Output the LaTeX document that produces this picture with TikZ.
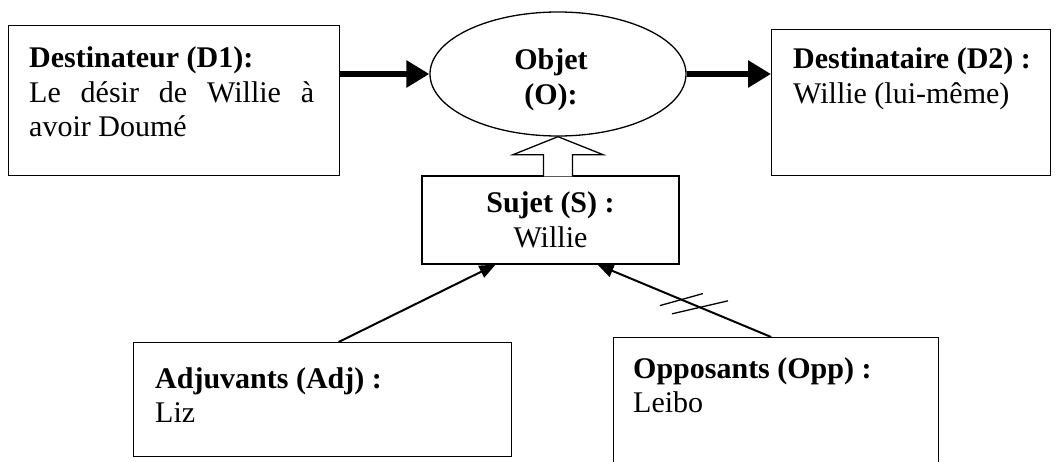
\documentclass[tikz,border=0pt]{standalone}
\usepackage{fontspec}
\setmainfont{Liberation Serif}
\usetikzlibrary{shapes.geometric,arrows.meta,calc}

\tikzset{
  boite/.style={draw, line width=1.3pt, inner sep=0pt, anchor=north west},
  texte/.style={anchor=north west, inner sep=0pt, align=left, font=\fontsize{30}{34.5}\selectfont},
  grosse/.style={line width=6pt, -{Triangle[length=23pt,width=26pt]}},
  fine/.style={line width=2pt, -{Triangle[length=16pt,width=13pt]}}
}

\begin{document}
\begin{tikzpicture}[x=1pt,y=-1pt]
    \clip (0,0) rectangle (1057,461);

    % les cases
    \node[boite, minimum width=331pt, minimum height=150pt] (d1) at (8,25) {};
    \node[texte] (d1t) at ($(d1.north west)+(21,21.5)$) {\textbf{Destinateur (D1):}\\\makebox[285pt][s]{Le désir de Willie à}\\avoir Doumé};

    \node[boite, minimum width=279pt, minimum height=146pt] (d2) at (771,29) {};
    \node[texte] (d2t) at ($(d2.north west)+(22,18.5)$) {\textbf{Destinataire (D2) :}\\Willie (lui-même)};

    \node[draw, ellipse, line width=1.3pt, minimum width=256pt, minimum height=124pt,
          label={[align=center, font=\fontsize{30}{34.5}\selectfont\bfseries, xshift=-7pt, yshift=-6pt]center:{Objet\\(O):}}] (objet) at (558,74) {};

    \node[draw, line width=1.3pt, minimum width=257pt, minimum height=88pt, align=center,
          font=\fontsize{30}{34.5}\selectfont] (sujet) at (550.5,220) {\textbf{Sujet (S) :}\\Willie};

    \node[boite, minimum width=378pt, minimum height=114pt] (adj) at (133,342) {};
    \node[texte] (adjt) at ($(adj.north west)+(22,25)$) {\textbf{Adjuvants (Adj) :}\\Liz};

    \node[boite, minimum width=325pt, minimum height=140pt] (opp) at (613,337) {};
    \node[texte] (oppt) at ($(opp.north west)+(20,20)$) {\textbf{Opposants (Opp) :}\\Leibo};

    % fleches
    \draw[grosse] (d1.east |- objet.west) -- (objet.west);
    \draw[grosse] (objet.east) -- (objet.east -| d2.west);

    \coordinate (pointe) at (objet.south);
    \draw[line width=1.3pt, fill=white] ($(sujet.north -| pointe)+(-14.5,1)$) -- ($(pointe)+(-14.5,18)$)
        -- ($(pointe)+(-45,18)$) -- (pointe) -- ($(pointe)+(45,18)$) -- ($(pointe)+(14.5,18)$)
        -- ($(sujet.north -| pointe)+(14.5,1)$);

    \draw[fine] ([xshift=16pt]adj.north) -- ([xshift=-55pt]sujet.south);
    \draw[fine] ([xshift=-5pt]opp.north) -- ([xshift=47pt]sujet.south)
        coordinate[pos=0.41] (barre1) coordinate[pos=0.517] (barre2);
    \draw[line width=1.3pt] ($(barre1)+(-28,6.5)$) -- ($(barre1)+(28,-6.5)$);
    \draw[line width=1.3pt] ($(barre2)+(-21.5,6)$) -- ($(barre2)+(21.5,-6)$);

\end{tikzpicture}
\end{document}
